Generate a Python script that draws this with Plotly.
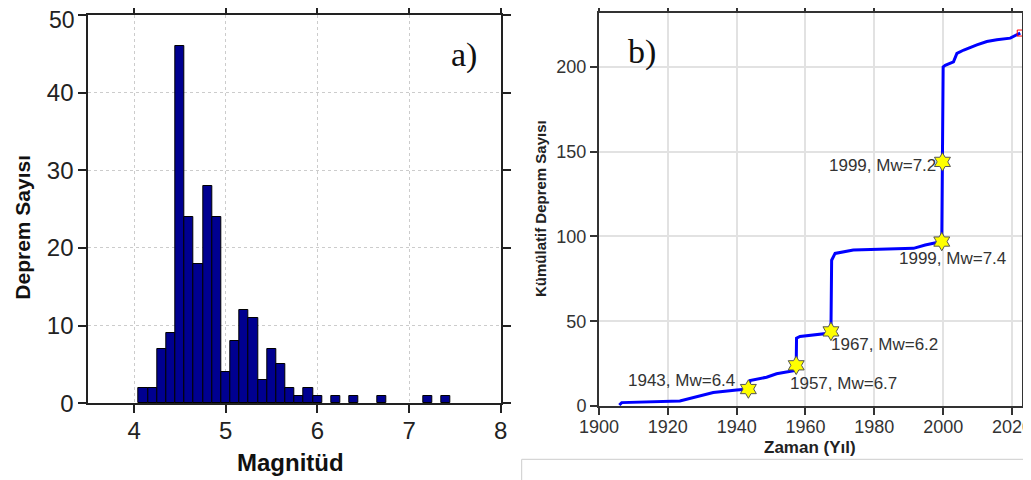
import plotly.graph_objects as go

# ---- Panel a) histogram of magnitudes ----
magnitude_bins = [4.1, 4.2, 4.3, 4.4, 4.5, 4.6, 4.7, 4.8, 4.9, 5.0,
                  5.1, 5.2, 5.3, 5.4, 5.5, 5.6, 5.7, 5.8, 5.9, 6.0,
                  6.2, 6.4, 6.7, 7.2, 7.4]
event_counts = [2, 2, 7, 9, 46, 24, 18, 28, 24, 4,
                8, 12, 11, 3, 7, 5, 2, 1, 2, 1,
                1, 1, 1, 1, 1]
count_ticks = [0, 10, 20, 30, 40]
count_top_tick = 50

# ---- Panel b) cumulative number of earthquakes ----
years = [1905.9, 1906.6, 1923.5, 1929.4, 1933.2, 1940.0, 1943.4, 1943.9, 1948.7,
         1951.6, 1957.0, 1957.3, 1957.4, 1958.4, 1967.2, 1967.4, 1967.6, 1968.6,
         1973.9, 1991.4, 1994.8, 1999.6, 1999.8, 2000.0, 2000.6, 2003.0, 2004.0,
         2006.0, 2009.8, 2012.7, 2015.6, 2019.5, 2022.4]
cumulative = [0.6, 2, 3, 6, 8, 9.4, 10, 15, 17,
              19, 21, 24, 40, 41, 43, 44, 86, 90,
              92, 93, 95, 97, 144, 200, 201, 203, 208,
              210, 213, 215, 216, 217, 220]

major_years = [1943.4, 1957.3, 1967.4, 1999.6, 1999.8]
major_counts = [10, 24, 44, 97, 144]
major_labels = ["1943, Mw=6.4", "1957, Mw=6.7", "1967, Mw=6.2", "1999, Mw=7.4", "1999, Mw=7.2"]
label_x = [1940.0, 1955.0, 1966.7, 1986.6, 1998.4]
label_y = [15.3, 13.4, 36, 87, 142]
label_anchor = ["right", "left", "left", "left", "right"]

last_year = [2022.4]
last_count = [220]

# page body has an 8px margin; the figure fills the rest of the 1031x480 window
OFF = 8
W, H = 1031 - OFF, 480 - OFF
SANS = "Arial, Liberation Sans, sans-serif"
SERIF = "Times New Roman, Liberation Serif, serif"

fig = go.Figure()

fig.add_trace(go.Bar(
    x=magnitude_bins, y=event_counts, width=0.1,
    marker=dict(color="#000090", line=dict(color="#000000", width=1)),
    xaxis="x", yaxis="y", showlegend=False,
))

fig.add_trace(go.Scatter(
    x=years, y=cumulative, mode="lines",
    line=dict(color="#0000ff", width=3),
    xaxis="x2", yaxis="y2", showlegend=False,
))
fig.add_trace(go.Scatter(
    x=major_years, y=major_counts, mode="markers",
    marker=dict(symbol="hexagram", size=14, color="#ffff00",
                line=dict(color="#555555", width=1)),
    xaxis="x2", yaxis="y2", showlegend=False,
))
fig.add_trace(go.Scatter(
    x=last_year, y=last_count, mode="markers",
    marker=dict(symbol="square-open", size=6, color="#ff0000", line=dict(width=1)),
    xaxis="x2", yaxis="y2", showlegend=False, cliponaxis=False,
))

def px_x(p):
    return (p - OFF) / W

def px_y(p):
    return 1 - (p - OFF) / H

axis_common = dict(showline=True, mirror="allticks", ticks="outside",
                   zeroline=False, showgrid=True, automargin=False,
                   ticklabeloverflow="allow")

fig.update_layout(
    width=W, height=H,
    margin=dict(l=0, r=0, t=0, b=0, autoexpand=False),
    paper_bgcolor="white", plot_bgcolor="white",
    bargap=0,
    xaxis=dict(domain=[px_x(88.3), px_x(500.7)], range=[3.5, 8], dtick=1,
               linecolor="#222222", linewidth=2, ticklen=8, tickwidth=2, tickcolor="#222222",
               gridcolor="#cccccc", griddash="dot", gridwidth=1,
               tickfont=dict(family=SANS, size=24, color="#222222"),
               ticklabelstandoff=-3,
               anchor="y", **axis_common),
    yaxis=dict(domain=[px_y(403.3), px_y(15)], range=[0, 50],
               tickmode="array", tickvals=count_ticks + [count_top_tick],
               ticktext=[str(v) for v in count_ticks] + [""],
               linecolor="#222222", linewidth=2, ticklen=8, tickwidth=2, tickcolor="#222222",
               gridcolor="#cccccc", griddash="dot", gridwidth=1,
               tickfont=dict(family=SANS, size=24, color="#222222"),
               anchor="x", **axis_common),
    xaxis2=dict(domain=[px_x(599), px_x(1022.3)], range=[1900, 2023], dtick=20,
                linecolor="#333333", linewidth=2, ticklen=7, tickwidth=2, tickcolor="#333333",
                gridcolor="#e2e2e2", gridwidth=1.5,
                tickfont=dict(family=SANS, size=18, color="#333333"),
                ticklabelstandoff=-4,
                anchor="y2", **axis_common),
    yaxis2=dict(domain=[px_y(406), px_y(12.7)], range=[0, 232], dtick=50,
                linecolor="#333333", linewidth=2, ticklen=7, tickwidth=2, tickcolor="#333333",
                gridcolor="#e2e2e2", gridwidth=1.5,
                tickfont=dict(family=SANS, size=18, color="#333333"),
                anchor="x2", **axis_common),
)

annotations = [
    dict(text=str(count_top_tick), x=px_x(88.3), y=count_top_tick, xref="paper", yref="y",
         xanchor="right", yanchor="middle", xshift=-11, yshift=-5, showarrow=False,
         font=dict(family=SANS, size=23, color="#222222")),
    dict(text="<b>Deprem Sayısı</b>", x=px_x(21.7), y=px_y(227), xref="paper", yref="paper",
         textangle=-90, showarrow=False, font=dict(family=SANS, size=21, color="#111111"),
         xanchor="center", yanchor="middle"),
    dict(text="<b>Magnitüd</b>", x=px_x(290), y=px_y(462), xref="paper", yref="paper",
         showarrow=False, font=dict(family=SANS, size=24, color="#111111"),
         xanchor="center", yanchor="middle"),
    dict(text="a)", x=px_x(464), y=px_y(55), xref="paper", yref="paper",
         showarrow=False, font=dict(family=SERIF, size=34, color="#111111"),
         xanchor="center", yanchor="middle"),
    dict(text="b)", x=px_x(642), y=px_y(52), xref="paper", yref="paper",
         showarrow=False, font=dict(family=SERIF, size=34, color="#111111"),
         xanchor="center", yanchor="middle"),
    dict(text="<b>Kümülatif Deprem Sayısı</b>", x=px_x(540), y=px_y(209), xref="paper", yref="paper",
         textangle=-90, showarrow=False, font=dict(family=SANS, size=15, color="#222222"),
         xanchor="center", yanchor="middle"),
    dict(text="<b>Zaman (Yıl)</b>", x=px_x(810), y=px_y(447), xref="paper", yref="paper",
         showarrow=False, font=dict(family=SANS, size=17, color="#222222"),
         xanchor="center", yanchor="middle"),
]
for t, lx, ly, an in zip(major_labels, label_x, label_y, label_anchor):
    annotations.append(dict(text=t, x=lx, y=ly, xref="x2", yref="y2", showarrow=False,
                            xanchor=an, yanchor="middle",
                            font=dict(family=SANS, size=17, color="#333333")))
fig.update_layout(annotations=annotations)

fig.add_shape(type="rect", xref="paper", yref="paper",
              x0=px_x(521.7), x1=1.01, y0=-0.01, y1=px_y(459.3),
              line=dict(color="#cccccc", width=1), fillcolor="white", layer="above")

fig.write_html("out.html")
